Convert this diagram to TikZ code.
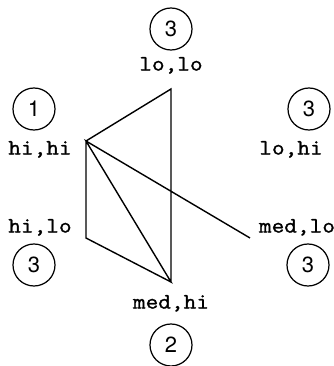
\documentclass[tikz,border=0pt]{standalone}
\usepackage{graphicx}
\usepackage{fontspec}
\usepackage{tikz}
\newfontfamily\digitfont{TeX Gyre Heros}
\newfontfamily\pairfont{Latin Modern Mono}[FakeBold=1.2]
\newcommand{\pairtxt}[1]{\scalebox{1.12}[1]{\pairfont #1}}

\begin{document}
\begin{tikzpicture}[font=\fontsize{12.5}{14}\selectfont,
  payoff/.style={draw, circle, line width=0.7pt, minimum size=0.84cm, inner sep=0pt, font=\digitfont\fontsize{12.5}{14}\selectfont},
  pairlbl/.style={inner sep=0pt, text height=1.6ex, text depth=0.4ex},
  edge/.style={line width=0.8pt, line join=miter}]
  \useasboundingbox (0,0) rectangle (6.68,7.32);
  % corners of the hexagon
  \coordinate (lolo) at (3.42,5.54);
  \coordinate (hihi) at (1.72,4.50);
  \coordinate (hilo) at (1.72,2.56);
  \coordinate (medhi) at (3.42,1.68);
  \coordinate (medlo) at (5.00,2.56);
  % strategy pairs
  \foreach \n/\t/\x/\y in {tlolo/{lo,lo}/3.42/6.00, thihi/{hi,hi}/0.80/4.32, tlohi/{lo,hi}/5.82/4.32,
                            thilo/{hi,lo}/0.80/2.76, tmedlo/{med,lo}/5.94/2.76, tmedhi/{med,hi}/3.42/1.24}
    {\node[pairlbl] (\n) at (\x,\y) {\pairtxt{\t}};}
  % payoffs
  \foreach \n/\v/\x/\y in {plolo/3/3.42/6.74, phihi/1/0.68/5.14, plohi/3/6.18/5.14,
                            philo/3/0.68/2.02, pmedlo/3/6.16/2.02, pmedhi/2/3.42/0.42}
    {\node[payoff] (\n) at (\x,\y) {\v};}
  % edges
  \draw[edge] (medhi) -- (lolo) -- (hihi) -- (hilo) -- (medhi) -- (hihi) -- (medlo);
\end{tikzpicture}
\end{document}
